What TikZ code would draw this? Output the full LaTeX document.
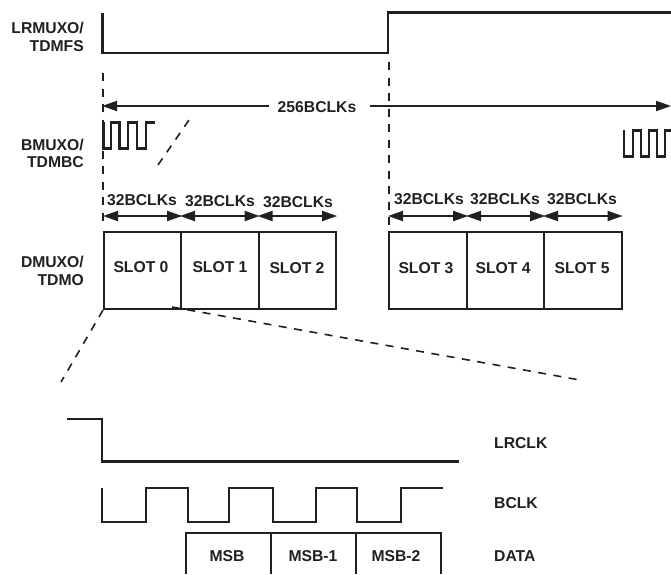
\documentclass[tikz,border=0pt]{standalone}
\usepackage{fontspec}
\setmainfont{Liberation Sans}
\usepackage{tikz}
\usetikzlibrary{arrows.meta}
\definecolor{ink}{HTML}{231F20}
\tikzset{
	wave/.style={line width=2.3pt,color=ink,line join=miter},
	thinwave/.style={line width=2.1pt,color=ink,line join=miter},
	guide/.style={line width=1.6pt,color=ink,dash pattern=on 8pt off 7.5pt},
	span/.style={line width=1.9pt,color=ink,-{Triangle[length=15pt,width=10pt]}},
	spanboth/.style={line width=1.9pt,color=ink,{Triangle[length=15pt,width=10pt]}-{Triangle[length=15pt,width=10pt]}},
	lbl/.style={inner sep=0pt,color=ink,font=\fontsize{15.7}{17.5}\selectfont\bfseries},
	slotbox/.style={draw=ink,line width=2.1pt,minimum height=77pt,inner sep=0pt,anchor=north west},
}
\begin{document}
\begin{tikzpicture}[x=1pt,y=-1pt]
	\useasboundingbox (0,0) rectangle (671,574);

	% top signals
	\draw[wave] (102.5,13) -- (102.5,53) -- (388,53) -- (388,12.5) -- (671,12.5);
	\draw[thinwave] (103.5,122) -- (103.5,148.5) -- (111,148.5) -- (111,122.5) -- (119.5,122.5) -- (119.5,148.5) -- (128,148.5) -- (128,122.5) -- (137,122.5) -- (137,148.5) -- (146,148.5) -- (146,122.5) -- (155,122.5);
	\draw[thinwave] (624,130) -- (624,156.5) -- (633,156.5) -- (633,130.5) -- (641,130.5) -- (641,156.5) -- (649,156.5) -- (649,130.5) -- (657,130.5) -- (657,156.5) -- (665,156.5) -- (665,130.5) -- (671,130.5);

	\coordinate (g1a) at (103,73);
	\coordinate (g1b) at (103,223);
	\coordinate (g2a) at (389,62);
	\coordinate (g2b) at (389,227);
	\draw[guide] (g1a) -- (g1b);
	\draw[guide] (g2a) -- (g2b);
	\coordinate (d1a) at (158,165);
	\coordinate (d1b) at (189,120);
	\draw[guide] (d1a) -- (d1b);

	% 256 span
	\node[lbl] (total) at (317,107) {256BCLKs};
	\coordinate (tl) at (102,106);
	\coordinate (tr) at (671,106);
	\draw[span] ([xshift=-9pt,yshift=1pt]total.west) -- (tl);
	\draw[span] ([xshift=14pt,yshift=1pt]total.east) -- (tr);

	% left labels
	\node[lbl,align=right,anchor=east] (lrm) at (84,37) {LRMUXO/\\TDMFS};
	\node[lbl,align=right,anchor=east] (bm) at (84,153.5) {BMUXO/\\TDMBC};
	\node[lbl,align=right,anchor=east] (dm) at (84,271) {DMUXO/\\TDMO};

	% slots
	\node[slotbox,minimum width=77pt] (s0) at (103,231) {};
	\node[slotbox,minimum width=77.5pt] (s1) at (180,231) {};
	\node[slotbox,minimum width=77.5pt] (s2) at (257.5,231) {};
	\node[slotbox,minimum width=78pt] (s3) at (388,231) {};
	\node[slotbox,minimum width=77pt] (s4) at (466,231) {};
	\node[slotbox,minimum width=77.5pt] (s5) at (543,231) {};
	\node[lbl] (t0) at (141,267) {SLOT 0};
	\node[lbl] (t1) at (220,267.5) {SLOT 1};
	\node[lbl] (t2) at (297,268.5) {SLOT 2};
	\node[lbl] (t3) at (426,268.5) {SLOT 3};
	\node[lbl] (t4) at (503,268.5) {SLOT 4};
	\node[lbl] (t5) at (582,268.5) {SLOT 5};

	\foreach \s/\x/\y in {0/142/200,1/220/201,2/298/202,3/429/199.5,4/505/199.5,5/582/199.5}
		\node[lbl] (c\s) at (\x,\y) {32BCLKs};
	\foreach \s in {0,...,5}
		\draw[spanboth] ([yshift=15pt]s\s.north west) -- ([yshift=15pt]s\s.north east);

	% zoom lines
	\coordinate (z1) at (61,382);
	\coordinate (z2) at (580,380);
	\coordinate (z3) at (172,307);
	\draw[guide] (s0.south west) -- (z1);
	\draw[guide] (z3) -- (z2);

	% bottom signals
	\draw[wave] (67,419) -- (102,419) -- (102,461.5) -- (459,461.5);
	\draw[wave] (102,488) -- (102,522) -- (146,522) -- (146,488) -- (188,488) -- (188,522) -- (229,522) -- (229,488) -- (273,488) -- (273,522) -- (316,522) -- (316,488) -- (357,488) -- (357,522) -- (401,522) -- (401,488) -- (443,488);

	\coordinate (da) at (186,574);
	\coordinate (db) at (271,574);
	\coordinate (dc) at (356,574);
	\coordinate (dd) at (441,574);
	\draw[thinwave] (da) -- (186,533) -- (441,533) -- (dd);
	\draw[thinwave] (db) -- (271,533);
	\draw[thinwave] (dc) -- (356,533);
	\node[lbl] (msb0) at (227,556) {MSB};
	\node[lbl] (msb1) at (313,556) {MSB-1};
	\node[lbl] (msb2) at (396,556) {MSB-2};

	\node[lbl,anchor=west] (lr) at (494,443) {LRCLK};
	\node[lbl,anchor=west] (bc) at (494,503) {BCLK};
	\node[lbl,anchor=west] (dt) at (494,556) {DATA};

\end{tikzpicture}
\end{document}
